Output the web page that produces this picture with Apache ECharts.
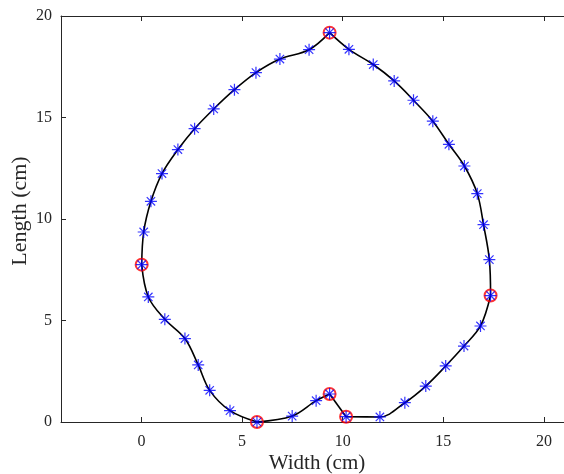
<!DOCTYPE html>
<html>
<head>
<meta charset="utf-8">
<script src="https://cdn.jsdelivr.net/npm/echarts@6/dist/echarts.min.js"></script>
<style>html,body{margin:0;padding:0;background:#fff}#c{width:564px;height:474px}</style>
</head>
<body>
<div id="c"></div>
<script>
// Outline points (clockwise from the tip), width (cm) and length (cm)
const widthX = [9.35,10.31,11.52,12.56,13.52,14.48,15.28,16.05,16.69,17.00,17.29,17.35,16.85,16.03,15.12,14.13,13.09,11.85,10.17,9.35,8.68,7.49,5.74,4.40,3.39,2.82,2.16,1.16,0.34,0.01,0.11,0.47,1.02,1.81,2.64,3.59,4.62,5.69,6.88,8.33];
const lengthY = [19.18,18.36,17.61,16.80,15.85,14.82,13.68,12.61,11.25,9.72,8.00,6.23,4.73,3.74,2.76,1.77,0.95,0.25,0.26,1.38,1.05,0.29,0.00,0.56,1.56,2.81,4.11,5.06,6.16,7.75,9.36,10.87,12.24,13.42,14.45,15.42,16.37,17.21,17.88,18.34];
// indices of key (red circled) points
const keyIdx = [0,11,18,19,22,29];
const xTicks = [0,5,10,15,20];
const yTicks = [0,5,10,15,20];
const xTitle = 'Width (cm)';
const yTitle = 'Length (cm)';

const pts = widthX.map((x,i)=>[x,lengthY[i]]);
const n = pts.length;
const series = [];
for (let k=0;k<keyIdx.length;k++){
  const a = keyIdx[k], b = k+1<keyIdx.length ? keyIdx[k+1] : n;
  const seg = [];
  for (let i=a;i<=b;i++) seg.push(pts[i % n]);
  series.push({type:'line', data:seg, smooth:0.35, symbol:'none', clip:false,
    lineStyle:{color:'#000', width:1.6}, z:2, silent:true});
}
series.push({type:'scatter', data:keyIdx.map(i=>pts[i]), symbol:'circle', symbolSize:12, clip:false,
  itemStyle:{color:'rgba(0,0,0,0)', borderColor:'#ff0000', borderWidth:2}, z:3});
series.push({type:'scatter', data:pts, clip:false,
  symbol:'path://M0,-10L0,10M-10,0L10,0M-7,-7L7,7M-7,7L7,-7', symbolSize:12,
  itemStyle:{color:'none', borderColor:'#0000ff', borderWidth:1.2}, z:4});

const font = 'Liberation Serif';
const axisCol = '#262626';
const chart = echarts.init(document.getElementById('c'));
chart.setOption({
  animation:false,
  backgroundColor:'#fff',
  grid:{left:61, top:16, right:-2, bottom:52, containLabel:false},
  xAxis:[{type:'value', min:-4, max:21, position:'bottom',
    axisLine:{show:true, onZero:false, lineStyle:{color:axisCol, width:1}},
    axisTick:{show:true, inside:true, length:5, customValues:xTicks, lineStyle:{color:axisCol}},
    axisLabel:{customValues:xTicks, color:axisCol, fontFamily:font, fontSize:16, margin:12},
    splitLine:{show:false}},
   {type:'value', min:-4, max:21, position:'top',
    axisLine:{show:true, onZero:false, lineStyle:{color:axisCol, width:1}},
    axisTick:{show:true, inside:true, length:5, customValues:xTicks, lineStyle:{color:axisCol}},
    axisLabel:{show:false}, splitLine:{show:false}}],
  yAxis:{type:'value', min:0, max:20, interval:5,
    axisLine:{show:true, onZero:false, lineStyle:{color:axisCol, width:1}},
    axisTick:{show:true, inside:true, length:5, lineStyle:{color:axisCol}},
    axisLabel:{color:axisCol, fontFamily:font, fontSize:16, margin:9},
    splitLine:{show:false}},
  graphic:[
    {type:'text', x:317, y:463, style:{text:xTitle, fontFamily:font, fontSize:21, fill:axisCol, align:'center', verticalAlign:'middle'}},
    {type:'text', x:20, y:211, rotation:Math.PI/2, style:{text:yTitle, fontFamily:font, fontSize:22, fill:axisCol, align:'center', verticalAlign:'middle'}}
  ],
  series:series
});
</script>
</body>
</html>
